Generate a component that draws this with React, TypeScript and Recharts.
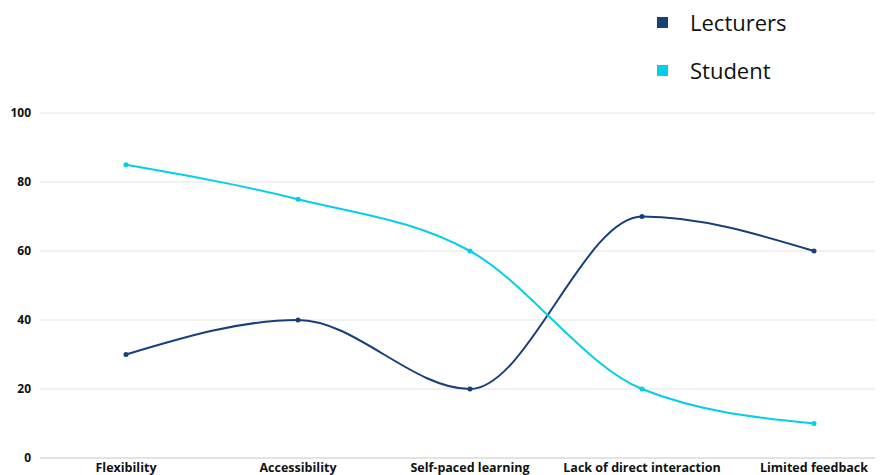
import { LineChart, Line, XAxis, YAxis, CartesianGrid } from 'recharts'

const categories = ['Flexibility', 'Accessibility', 'Self-paced learning', 'Lack of direct interaction', 'Limited feedback']
const lecturers = [30, 40, 20, 70, 60]
const students = [85, 75, 60, 20, 10]
const yTicks = [0, 20, 40, 60, 80, 100]

const series = [
  { key: 'lecturers', name: 'Lecturers', color: '#173f7a', values: lecturers },
  { key: 'student', name: 'Student', color: '#05cfe6', values: students },
]

const data = categories.map((c, i) => ({
  name: c,
  lecturers: lecturers[i],
  student: students[i],
}))

const font = '"Open Sans", sans-serif'

export default function App() {
  return (
    <div style={{ position: 'relative', width: 875, height: 467, fontFamily: font }}>
      <LineChart width={875} height={467} data={data} margin={{ top: 105, right: 0, left: 0, bottom: 0 }}>
        <CartesianGrid vertical={false} stroke="#e3e3e3" />
        <XAxis
          dataKey="name"
          axisLine={{ stroke: '#d6d6d6' }}
          tickLine={false}
          tickSize={4}
          tickMargin={1}
          height={17}
          interval={0}
          padding={{ left: 86, right: 69 }}
          tick={{ fontSize: 12.5, fontWeight: 700, fill: '#111', fontFamily: font }}
        />
        <YAxis
          domain={[0, 100]}
          ticks={yTicks}
          width={32}
          axisLine={false}
          tickLine={false}
          tickSize={0}
          tickMargin={9}
          tick={{ fontSize: 12, fontWeight: 700, fill: '#111', fontFamily: font }}
        />
        {series.map((s) => (
          <Line
            key={s.key}
            type="monotone"
            dataKey={s.key}
            name={s.name}
            stroke={s.color}
            strokeWidth={2}
            dot={{ r: 2.5, fill: s.color, stroke: s.color, strokeWidth: 0 }}
            isAnimationActive={false}
          />
        ))}
      </LineChart>
      <div style={{ position: 'absolute', left: 649, top: -1 }}>
        {series.map((s, i) => (
          <div
            key={s.key}
            style={{ display: 'flex', alignItems: 'center', height: 28, marginTop: i === 0 ? 1 : 20 }}
          >
            <span style={{ width: 11, height: 11, background: s.color, display: 'inline-block', marginRight: 22 }} />
            <span style={{ fontSize: 22, color: '#111' }}>{s.name}</span>
          </div>
        ))}
      </div>
    </div>
  )
}
